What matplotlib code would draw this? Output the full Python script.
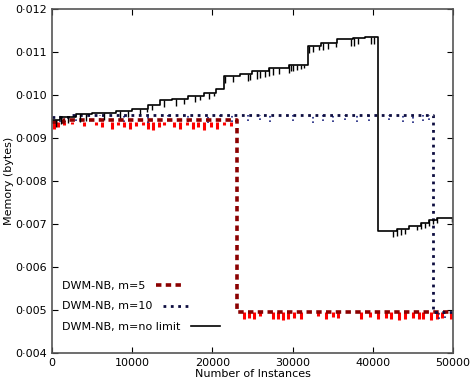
import matplotlib
matplotlib.use('Agg')
import matplotlib.pyplot as plt

# no-limit window (black solid), step levels
x_nolim = [0, 1000, 3000, 5000, 8000, 10000, 12000, 13500, 15000, 17000, 19000, 20500,
           21400, 23500, 25000, 27000, 29500, 31900, 33500, 35500, 37500, 39000,
           40600, 43000, 44500, 46000, 47000, 48000, 50000]
y_nolim = [0.00942, 0.00950, 0.00955, 0.00958, 0.00962, 0.00968, 0.00978, 0.00988,
           0.00990, 0.00998, 0.01005, 0.01015, 0.01044, 0.01048, 0.01055, 0.01062,
           0.01070, 0.01115, 0.01122, 0.01130, 0.01133, 0.01135, 0.00684, 0.00688,
           0.00695, 0.00703, 0.00710, 0.00714, 0.00714]
spk_nolim_x = [500, 1200, 2000, 3500, 4200, 6500, 8500, 9500, 11000, 11800, 12500, 14000,
               15500, 16500, 17800, 18500, 19600, 20200, 21600, 22600, 24400, 24750,
               25600, 26000, 26600, 27000, 27500, 28250, 29500, 29750, 30100, 30600,
               31000, 31400, 32000, 32500, 33250, 33750, 34400, 35400, 37250, 37600,
               38100, 39750, 40100, 42500, 43000, 43500, 44000, 45500, 46000, 46500,
               47000, 47500, 48000, 49900]
spk_nolim_y = [0.00925, 0.00932, 0.00935, 0.00938, 0.00940, 0.00942, 0.00946, 0.00950,
               0.00955, 0.00960, 0.00965, 0.00972, 0.00975, 0.00980, 0.00985, 0.00988,
               0.00990, 0.00998, 0.01028, 0.01030, 0.01032, 0.01035, 0.01038, 0.01040,
               0.01042, 0.01045, 0.01046, 0.01050, 0.01052, 0.01055, 0.01055, 0.01058,
               0.01060, 0.01062, 0.01098, 0.01100, 0.01104, 0.01106, 0.01108, 0.01112,
               0.01115, 0.01115, 0.01118, 0.01120, 0.01118, 0.00670, 0.00672, 0.00674,
               0.00678, 0.00685, 0.00688, 0.00690, 0.00695, 0.00700, 0.00702, 0.00705]

# m=5 window (red dashed)
x_m5 = [0, 1500, 23100, 50000]
y_m5 = [0.00938, 0.00942, 0.00495, 0.00495]
spk_m5_x = [300, 800, 1500, 2500, 4000, 5500, 6200, 7500, 8200, 9000, 9800, 10500, 11300,
            12000, 12600, 13300, 14000, 15200, 16000, 16800, 17600, 18200, 19000, 19800,
            20600, 21500, 22300, 24000, 24600, 25200, 26000, 27600, 28200, 28800, 29400,
            30200, 31000, 33200, 34200, 35000, 35600, 38500, 39700, 40600, 41600, 42200,
            43200, 44000, 45000, 45800, 46300, 47200, 48000, 48600, 49800]
spk_m5_y = [0.00920, 0.00925, 0.00930, 0.00932, 0.00928, 0.00930, 0.00925, 0.00922,
            0.00930, 0.00925, 0.00920, 0.00928, 0.00930, 0.00922, 0.00918, 0.00925,
            0.00930, 0.00925, 0.00920, 0.00930, 0.00922, 0.00926, 0.00918, 0.00925,
            0.00920, 0.00930, 0.00928, 0.00478, 0.00482, 0.00480, 0.00485, 0.00478,
            0.00480, 0.00476, 0.00480, 0.00482, 0.00478, 0.00485, 0.00480, 0.00484,
            0.00482, 0.00478, 0.00484, 0.00480, 0.00482, 0.00478, 0.00476, 0.00480,
            0.00482, 0.00478, 0.00480, 0.00476, 0.00478, 0.00482, 0.00480]

# m=10 window (navy dotted)
x_m10 = [0, 2000, 47500, 50000]
y_m10 = [0.00948, 0.00953, 0.00495, 0.00495]
spk_m10_x = [1000, 3000, 6000, 9000, 12000, 14500, 17000, 19500, 21000, 22500, 24500,
             26000, 27200, 30000, 32500, 33800, 35000, 36500, 38000, 39500, 42000,
             43800, 45000, 46200, 47000, 48200, 49000]
spk_m10_y = [0.00938, 0.00940, 0.00942, 0.00938, 0.00935, 0.00940, 0.00938, 0.00936,
             0.00940, 0.00938, 0.00940, 0.00942, 0.00938, 0.00940, 0.00936, 0.00940,
             0.00938, 0.00942, 0.00938, 0.00940, 0.00942, 0.00938, 0.00936, 0.00940,
             0.00942, 0.00480, 0.00482]

xticks = [0, 10000, 20000, 30000, 40000, 50000]
yticks = [0.004, 0.005, 0.006, 0.007, 0.008, 0.009, 0.010, 0.011, 0.012]
ytick_labels = ['0\u00b7004', '0\u00b7005', '0\u00b7006', '0\u00b7007', '0\u00b7008',
                '0\u00b7009', '0\u00b7010', '0\u00b7011', '0\u00b7012']

fig = plt.figure(figsize=(4.71, 3.81), dpi=100)
ax = fig.add_axes([0.110, 0.0735, 0.852, 0.9025])

# spikes first, then the step lines on top
ax.vlines(spk_m5_x, spk_m5_y, [y_m5[0] if x < 23100 else y_m5[-1] for x in spk_m5_x],
          color='red', lw=2.2)
ax.vlines(spk_m10_x, spk_m10_y, [y_m10[1] if x < 47500 else y_m10[-1] for x in spk_m10_x],
          color='#1a237e', lw=1.2, linestyles=':')

l1, = ax.plot(x_m5, y_m5, drawstyle='steps-post', color='#8b0000', lw=2.6,
              ls=(0, (1.5, 1.2)), label='DWM-NB, m=5')
l2, = ax.plot(x_m10, y_m10, drawstyle='steps-post', color='#0d0d40', lw=2.0,
              ls=':', label='DWM-NB, m=10')

# spike bottoms hang from the step level in effect at each x
lev = []
for sx in spk_nolim_x:
    v = y_nolim[0]
    for xx, yy in zip(x_nolim, y_nolim):
        if xx <= sx:
            v = yy
    lev.append(v)
ax.vlines(spk_nolim_x, spk_nolim_y, lev, color='black', lw=1.0)
l3, = ax.plot(x_nolim, y_nolim, drawstyle='steps-post', color='black', lw=1.2,
              label='DWM-NB, m=no limit')

ax.set_xlim(0, 50000)
ax.set_ylim(0.004, 0.012)
ax.set_xticks(xticks)
ax.set_yticks(yticks)
ax.set_yticklabels(ytick_labels)
ax.tick_params(direction='in', top=True, right=True, labelsize=8, length=4)
ax.set_xlabel('Number of Instances', fontsize=8, labelpad=1)
ax.set_ylabel('Memory (bytes)', fontsize=8, labelpad=1)
for s in ax.spines.values():
    s.set_color('#555555')
    s.set_linewidth(1.2)

leg = ax.legend(handles=[l1, l2, l3], loc='lower left', bbox_to_anchor=(0.0, 0.032),
                markerfirst=False, frameon=False, fontsize=8, handlelength=2.6,
                handletextpad=1.0, labelspacing=0.95)
# rows left-aligned, so each sample follows its own label
for col in leg._legend_handle_box.get_children():
    col.align = 'left'

fig.savefig('out.png', dpi=100)
